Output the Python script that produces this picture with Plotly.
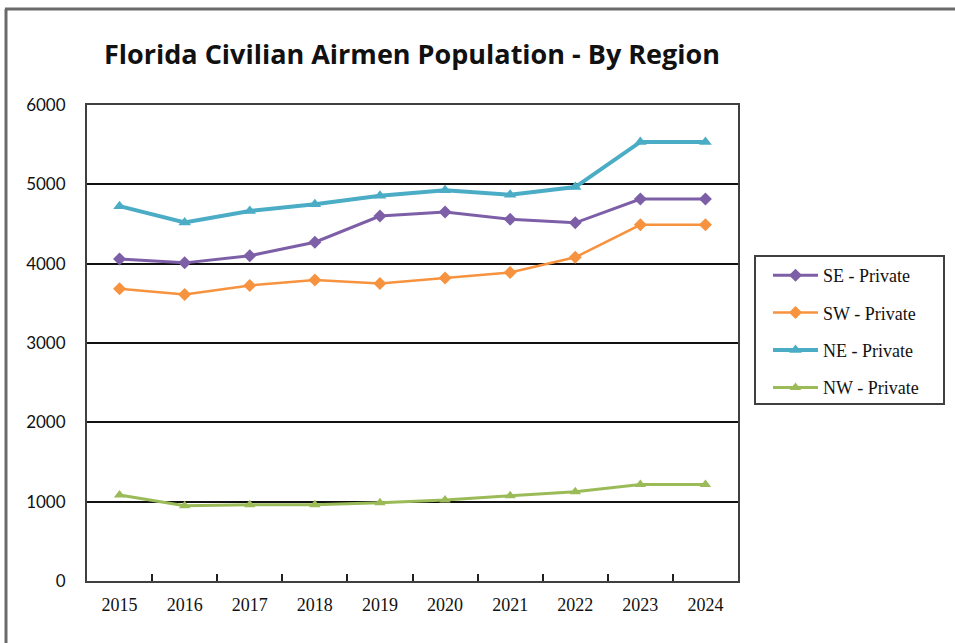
import plotly.graph_objects as go

years = ["2015", "2016", "2017", "2018", "2019", "2020", "2021", "2022", "2023", "2024"]
se_private = [4060, 4010, 4100, 4270, 4600, 4650, 4560, 4515, 4815, 4815]
sw_private = [3685, 3610, 3725, 3795, 3750, 3820, 3890, 4080, 4490, 4490]
ne_private = [4725, 4520, 4665, 4750, 4855, 4925, 4870, 4965, 5535, 5535]
nw_private = [1085, 950, 960, 962, 985, 1020, 1075, 1125, 1215, 1215]

series = [
    ("SE - Private", se_private, "#7D5FA7", "diamond", 3, 10),
    ("SW - Private", sw_private, "#F7923F", "diamond", 2.5, 10),
    ("NE - Private", ne_private, "#4BACC6", "triangle-up", 4, 11),
    ("NW - Private", nw_private, "#9BBB59", "triangle-up", 3, 10),
]

fig = go.Figure()
for name, vals, color, sym, lw, ms in series:
    fig.add_trace(go.Scatter(
        x=years, y=vals, name=name, mode="lines+markers",
        line=dict(color=color, width=lw),
        marker=dict(symbol=sym, size=ms, color=color),
        legendgroup=name,
    ))

L, R, T, B = 87, 217, 105, 62
PW, PH = 955 - L - R, 643 - T - B

def px_x(px):
    return (px - L) / PW

def px_y(py):
    return (643 - B - py) / PH

fig.update_layout(
    width=955, height=643,
    margin=dict(l=L, r=R, t=T, b=B),
    paper_bgcolor="white", plot_bgcolor="white",
    title=dict(
        text="<b>Florida Civilian Airmen Population - By Region</b>",
        font=dict(family="Open Sans", size=27, color="#111111"),
        x=412 / 955, xanchor="center", xref="container",
        y=1 - 55 / 643, yanchor="middle",
    ),
    showlegend=True,
    legend=dict(
        x=px_x(768), xanchor="left", y=px_y(257), yanchor="top",
        font=dict(family="Liberation Serif", size=18, color="#111111"),
        bgcolor="rgba(0,0,0,0)", borderwidth=0,
        tracegroupgap=11, itemwidth=45,
    ),
    shapes=[
        dict(type="line", xref="paper", yref="paper",
             x0=px_x(5), x1=px_x(960), y0=px_y(9), y1=px_y(9),
             line=dict(color="#6a6a6a", width=3), layer="below"),
        dict(type="line", xref="paper", yref="paper",
             x0=px_x(6), x1=px_x(6), y0=px_y(9), y1=px_y(660),
             line=dict(color="#6a6a6a", width=3), layer="below"),
        dict(type="rect", xref="paper", yref="paper",
             x0=px_x(755), x1=px_x(944), y0=px_y(404), y1=px_y(256),
             line=dict(color="#404040", width=2), layer="below"),
    ],
)

fig.update_xaxes(
    type="category", range=[-0.5, 9.5],
    showline=True, mirror=True, linecolor="#404040", linewidth=2,
    showgrid=False, ticks="inside", tickson="boundaries", ticklen=7,
    tickcolor="#202020", tickwidth=1.5,
    tickfont=dict(family="Liberation Serif", size=18, color="#111111"),
    ticklabelstandoff=6,
)
fig.update_yaxes(
    range=[0, 6000], tickvals=[0, 1000, 2000, 3000, 4000, 5000, 6000],
    showline=True, mirror=True, linecolor="#404040", linewidth=2,
    showgrid=True, gridcolor="#111111", gridwidth=1.5, zeroline=False,
    ticks="", tickfont=dict(family="Lato", size=17, color="#111111"),
    ticklabelstandoff=16,
)

fig.write_html("out.html")
